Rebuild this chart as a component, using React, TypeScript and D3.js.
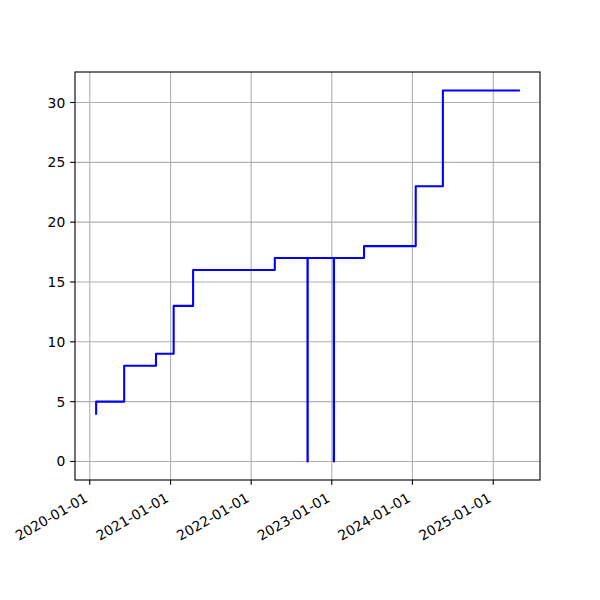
import React from "react";
import * as d3 from "d3";

const dates: string[] = [
  "2020-01-30",
  "2020-06-05",
  "2020-10-27",
  "2021-01-15",
  "2021-04-13",
  "2022-04-18",
  "2022-09-13",
  "2022-09-14",
  "2023-01-10",
  "2023-01-11",
  "2023-05-27",
  "2024-01-16",
  "2024-05-18",
  "2025-04-27",
];
const values: number[] = [4, 5, 8, 9, 13, 16, 17, 0, 17, 0, 17, 18, 23, 31];
const xTickLabels: string[] = ["2020-01-01", "2021-01-01", "2022-01-01", "2023-01-01", "2024-01-01", "2025-01-01"];
const yTicks: number[] = [0, 5, 10, 15, 20, 25, 30];

const W = 600;
const H = 600;
const left = 75;
const right = 540;
const top = 72;
const bottom = 480;
const pt = 100 / 72;

export default function App() {
  const parse = d3.utcParse("%Y-%m-%d");
  const pts = dates.map((d, i) => ({ x: parse(d) as Date, y: values[i] }));
  const xExt = d3.extent(pts, (p) => p.x.getTime()) as [number, number];
  const xPad = (xExt[1] - xExt[0]) * 0.05;
  const yMin = d3.min(values) as number;
  const yMax = d3.max(values) as number;
  const yPad = (yMax - yMin) * 0.05;
  const x = d3
    .scaleUtc()
    .domain([new Date(xExt[0] - xPad), new Date(xExt[1] + xPad)])
    .range([left, right]);
  const y = d3.scaleLinear().domain([yMin - yPad, yMax + yPad]).range([bottom, top]);

  const line = d3
    .line<{ x: Date; y: number }>()
    .x((p) => x(p.x))
    .y((p) => y(p.y))
    .curve(d3.curveStepBefore);

  const xTicks = xTickLabels.map((s) => ({ label: s, pos: x(parse(s) as Date) }));
  const font = "DejaVu Sans, sans-serif";
  const fs = 10 * pt;
  const tickLen = 3.5 * pt;
  const pad = 3.5 * pt;

  return (
    <div style={{ position: "absolute", left: 0, top: 0 }}>
      <svg width={W} height={H} style={{ display: "block", background: "#fff" }}>
        <rect x={0} y={0} width={W} height={H} fill="#fff" />
        <g stroke="#b0b0b0" strokeWidth={0.8 * pt}>
          {xTicks.map((t) => (
            <line key={t.label} x1={t.pos} x2={t.pos} y1={top} y2={bottom} />
          ))}
          {yTicks.map((v) => (
            <line key={v} x1={left} x2={right} y1={y(v)} y2={y(v)} />
          ))}
        </g>
        <path
          d={line(pts) ?? ""}
          fill="none"
          stroke="#0000ff"
          strokeWidth={1.5 * pt}
          strokeLinejoin="round"
          strokeLinecap="square"
        />
        <rect
          x={left}
          y={top}
          width={right - left}
          height={bottom - top}
          fill="none"
          stroke="#000"
          strokeWidth={0.8 * pt}
        />
        <g fontFamily={font} fontSize={fs} fill="#000">
          {xTicks.map((t) => (
            <g key={t.label}>
              <line x1={t.pos} x2={t.pos} y1={bottom} y2={bottom + tickLen} stroke="#000" strokeWidth={0.8 * pt} />
              <text
                transform={`translate(${t.pos - 1},${bottom + tickLen + pad + 11}) rotate(-30)`}
                textAnchor="end"
              >
                {t.label}
              </text>
            </g>
          ))}
          {yTicks.map((v) => (
            <g key={v}>
              <line x1={left - tickLen} x2={left} y1={y(v)} y2={y(v)} stroke="#000" strokeWidth={0.8 * pt} />
              <text x={left - tickLen - pad} y={y(v)} dy="0.36em" textAnchor="end">
                {v}
              </text>
            </g>
          ))}
        </g>
      </svg>
    </div>
  );
}
